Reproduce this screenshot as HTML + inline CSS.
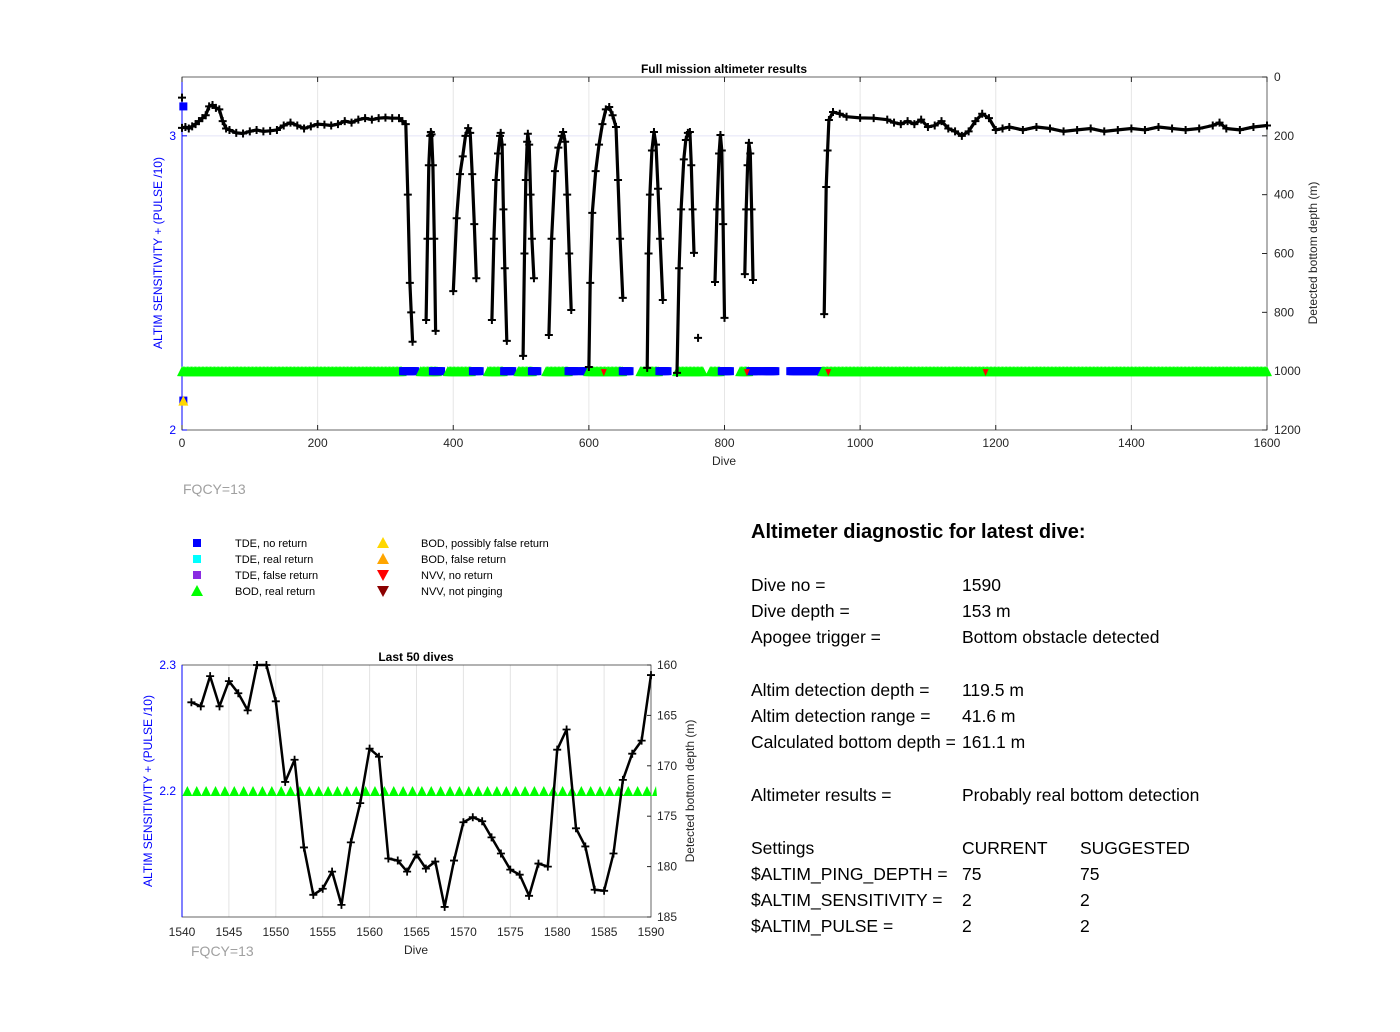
<!DOCTYPE html>
<html><head><meta charset="utf-8"><style>
body{margin:0;background:#fff;font-family:"Liberation Sans",Arial,sans-serif;}
#wrap{position:relative;width:1400px;height:1032px;overflow:hidden;}
svg{position:absolute;left:0;top:0;}
.diag{position:absolute;font-size:17.5px;color:#000;white-space:nowrap;}
</style></head><body>
<div id="wrap">
<svg id="svg" width="1400" height="1032" font-family="Liberation Sans, Arial, sans-serif"></svg>
<div class="diag" style="left:751px;top:521px;font-size:20px;font-weight:bold;">Altimeter diagnostic for latest dive:</div>
<div class="diag" style="left:751px;top:575px;">Dive no =</div><div class="diag" style="left:962px;top:575px;">1590</div>
<div class="diag" style="left:751px;top:601px;">Dive depth =</div><div class="diag" style="left:962px;top:601px;">153 m</div>
<div class="diag" style="left:751px;top:627px;">Apogee trigger =</div><div class="diag" style="left:962px;top:627px;">Bottom obstacle detected</div>
<div class="diag" style="left:751px;top:680px;">Altim detection depth =</div><div class="diag" style="left:962px;top:680px;">119.5 m</div>
<div class="diag" style="left:751px;top:706px;">Altim detection range =</div><div class="diag" style="left:962px;top:706px;">41.6 m</div>
<div class="diag" style="left:751px;top:732px;">Calculated bottom depth =</div><div class="diag" style="left:962px;top:732px;">161.1 m</div>
<div class="diag" style="left:751px;top:785px;">Altimeter results =</div><div class="diag" style="left:962px;top:785px;">Probably real bottom detection</div>
<div class="diag" style="left:751px;top:838px;">Settings</div><div class="diag" style="left:962px;top:838px;">CURRENT</div><div class="diag" style="left:1080px;top:838px;">SUGGESTED</div>
<div class="diag" style="left:751px;top:864px;">$ALTIM_PING_DEPTH =</div><div class="diag" style="left:962px;top:864px;">75</div><div class="diag" style="left:1080px;top:864px;">75</div>
<div class="diag" style="left:751px;top:890px;">$ALTIM_SENSITIVITY =</div><div class="diag" style="left:962px;top:890px;">2</div><div class="diag" style="left:1080px;top:890px;">2</div>
<div class="diag" style="left:751px;top:916px;">$ALTIM_PULSE =</div><div class="diag" style="left:962px;top:916px;">2</div><div class="diag" style="left:1080px;top:916px;">2</div>
</div>
<script>
// ---- top chart data (null = gap) ----
const topDives = [0,5,10,15,20,25,30,35,40,45,50,55,60,65,70,80,90,100,110,120,130,140,150,160,170,180,190,200,210,220,230,240,250,260,270,280,290,300,310,320,325,330,333,336,338,340,null,
360,362,364,366,367,368,370,372,374,null,
400,405,410,414,418,422,425,428,431,434,null,
457,460,463,466,469,470,472,474,476,479,null,
503,505,507,509,510,512,514,516,519,null,
541,545,550,555,560,562,565,568,571,574,null,
600,602,605,610,615,620,625,630,635,640,643,646,650,null,
686,688,690,693,696,699,702,705,709,null,
730,733,736,740,743,746,749,751,753,755,null,
761,null,
786,789,792,794,796,798,800,null,
830,832,834,836,838,840,842,null,
947,950,952,954,960,970,980,1000,1020,1040,1050,1060,1070,1080,1090,1100,1110,1120,1130,1140,1150,1160,1170,1180,1190,1200,1210,1220,1240,1260,1280,1300,1320,1340,1360,1380,1400,1420,1440,1460,1480,1500,1520,1530,1540,1560,1580,1600];
const topDepths = [173,170,175,168,160,150,140,130,100,95,105,110,150,175,180,190,192,185,180,185,183,180,165,155,165,175,168,160,162,165,160,150,155,145,140,145,140,138,140,140,150,160,400,700,800,900,null,
826,550,300,200,187,195,300,550,863,null,
728,480,330,270,200,174,190,330,500,684,null,
826,550,350,260,200,190,230,450,650,897,null,
948,600,350,220,193,230,400,550,684,null,
877,550,320,240,200,187,220,400,600,792,null,
986,700,462,320,230,160,110,102,130,170,350,550,751,null,
989,600,400,250,187,230,380,550,758,null,
1006,650,450,280,214,190,187,300,450,598,null,
887,null,
697,450,260,197,250,500,819,null,
670,450,300,224,260,450,690,null,
806,374,250,146,119,125,135,139,140,145,155,160,150,160,145,170,165,150,175,185,200,185,150,125,140,180,175,170,180,170,175,185,180,175,185,180,175,180,170,175,180,175,165,155,175,180,170,165];
// status marker ranges (dive from, dive to, type)
const statusFrom = [0,326,352,370,392,429,451,475,496,516,537,570,591,599,650,676,704,730,779,796,823,838,857,897,944];
const statusTo   = [325,344,376,383,427,440,474,487,516,525,570,583,599,650,660,702,717,768,794,808,835,850,876,944,1600];
const statusType = ["bod","tde","bod","tde","bod","tde","bod","tde","bod","tde","bod","tde","tde","bod","tde","bod","tde","bod","bod","tde","bod","tde","tde","tde","bod"];
const nvvDives = [622,833,953,1185];
const xTicks = [0,200,400,600,800,1000,1200,1400,1600];
const rTicks = [0,200,400,600,800,1000,1200];
// ---- bottom chart data ----
const lastDives = [1541,1542,1543,1544,1545,1546,1547,1548,1549,1550,1551,1552,1553,1554,1555,1556,1557,1558,1559,1560,1561,1562,1563,1564,1565,1566,1567,1568,1569,1570,1571,1572,1573,1574,1575,1576,1577,1578,1579,1580,1581,1582,1583,1584,1585,1586,1587,1588,1589,1590];
const lastDepths = [163.7,164.1,161.1,164.1,161.6,162.8,164.5,160,160,163.6,171.6,169.4,178.1,182.8,182.2,180.5,183.8,177.6,173.7,168.3,169.1,179.2,179.4,180.5,178.8,180.2,179.5,184.0,179.4,175.6,175.1,175.5,177.1,178.7,180.3,180.8,182.9,179.7,180.0,168.4,166.4,176.2,178.0,182.3,182.4,178.7,171.4,168.8,167.5,161.0];
const lastStatus = 2.2;
const bxTicks = [1540,1545,1550,1555,1560,1565,1570,1575,1580,1585,1590];
const brTicks = [160,165,170,175,180,185];

const svg = document.getElementById('svg');
const NS = 'http://www.w3.org/2000/svg';
function mk(tag, attrs, parent, name, inter) {
  const e = document.createElementNS(NS, tag);
  for (const k in attrs) e.setAttribute(k, attrs[k]);
  
  
  (parent || svg).appendChild(e);
  return e;
}
function txt(x, y, s, attrs, name) { const t = mk('text', Object.assign({x: x, y: y, 'font-size': 12}, attrs || {}), null, name); t.textContent = s; return t; }

// ===== top chart =====
const T = {l:182, r:1267, t:77, b:430};
const tx = d => T.l + (d / 1600) * (T.r - T.l);
const ty = m => T.t + (m / 1200) * (T.b - T.t);
const tyl = v => T.b - ((v - 2) / 1.2) * (T.b - T.t);
xTicks.forEach(d => { if (d > 0 && d < 1600) mk('line', {x1: tx(d), x2: tx(d), y1: T.t, y2: T.b, stroke: '#e6e6e6'}, null, 'top-gridline'); });
mk('line', {x1: T.l, x2: T.r, y1: tyl(3), y2: tyl(3), stroke: '#e4e4f8'}, null, 'top-gridline-3');
mk('rect', {x: T.l, y: T.t, width: T.r - T.l, height: T.b - T.t, fill: 'none', stroke: '#262626', 'stroke-width': 0.7}, null, 'top-plot-frame');
mk('line', {x1: T.l, x2: T.l, y1: T.t, y2: T.b, stroke: '#0000ff'}, null, 'top-left-axis');
xTicks.forEach(d => {
  mk('line', {x1: tx(d), x2: tx(d), y1: T.b, y2: T.b - 5, stroke: '#262626'}, null, 'top-x-tick');
  mk('line', {x1: tx(d), x2: tx(d), y1: T.t, y2: T.t + 5, stroke: '#262626'}, null, 'top-x-tick');
  txt(tx(d), 447, String(d), {'text-anchor': 'middle', fill: '#262626'}, 'top-x-tick-label');
});
rTicks.forEach(m => {
  mk('line', {x1: T.r - 5, x2: T.r, y1: ty(m), y2: ty(m), stroke: '#262626'}, null, 'top-right-tick');
  txt(T.r + 7, ty(m) + 4, String(m), {fill: '#262626'}, 'top-right-tick-label');
});
[2, 3].forEach(v => { txt(T.l - 6, tyl(v) + 4, String(v), {'text-anchor': 'end', fill: '#0000ff'}, 'top-left-tick-label'); mk('line', {x1: T.l, x2: T.l + 5, y1: tyl(v), y2: tyl(v), stroke: '#0000ff'}, null, 'top-left-tick'); });
txt(724, 73, 'Full mission altimeter results', {'text-anchor': 'middle', 'font-weight': 'bold'}, 'top-chart-title');
txt(724, 465, 'Dive', {'text-anchor': 'middle', fill: '#262626'}, 'top-x-axis-title');
txt(0, 0, 'ALTIM SENSITIVITY + (PULSE /10)', {'text-anchor': 'middle', fill: '#0000ff', transform: 'translate(162,253) rotate(-90)'}, 'top-left-axis-title');
txt(0, 0, 'Detected bottom depth (m)', {'text-anchor': 'middle', fill: '#262626', transform: 'translate(1317,253) rotate(-90)'}, 'top-right-axis-title');
txt(183, 494, 'FQCY=13', {'font-size': 14, fill: '#a0a0a0'}, 'top-fqcy-label');

// status markers
const gSt = mk('g', {}, null, 'top-status-markers');
const sy = tyl(2.2);
statusFrom.forEach((f, i) => {
  for (let d = f; d <= statusTo[i]; d += 2) {
    const x = tx(d);
    if (statusType[i] === 'bod') mk('polygon', {points: `${x-5},${sy+5} ${x},${sy-5} ${x+5},${sy+5}`, fill: '#00ff00'}, gSt, 'bod-real-marker');
    else mk('rect', {x: x - 4, y: sy - 4, width: 8, height: 8, fill: '#0000ff'}, gSt, 'tde-no-return-marker');
  }
});
nvvDives.forEach(d => { const x = tx(d); mk('polygon', {points: `${x-3},${sy-2} ${x+3},${sy-2} ${x},${sy+5}`, fill: '#ff0000'}, gSt, 'nvv-marker'); });
mk('rect', {x: tx(2) - 4, y: tyl(3.1) - 4, width: 8, height: 8, fill: '#0000ff'}, gSt, 'tde-marker-first');
mk('rect', {x: tx(2) - 4, y: tyl(2.1) - 4, width: 8, height: 8, fill: '#0000ff'}, gSt, 'tde-marker-first-low');
mk('polygon', {points: `${tx(2)-5},${tyl(2.1)+5} ${tx(2)},${tyl(2.1)-5} ${tx(2)+5},${tyl(2.1)+5}`, fill: '#ffd700'}, gSt, 'bod-possibly-false-marker');

// depth line
let dStr = '', pen = false;
topDives.forEach((d, i) => {
  if (d === null || topDepths[i] === null) { pen = false; return; }
  dStr += (pen ? 'L' : 'M') + tx(d).toFixed(1) + ' ' + ty(topDepths[i]).toFixed(1) + ' ';
  pen = true;
});
mk('path', {d: dStr, fill: 'none', stroke: '#000', 'stroke-width': 3.2, 'stroke-linejoin': 'round'}, null, 'top-depth-line');
const gM = mk('g', {stroke: '#000', 'stroke-width': 2}, null, 'top-depth-markers');
topDives.forEach((d, i) => {
  if (d === null) return;
  const x = tx(d), y = ty(topDepths[i]);
  mk('path', {d: `M${x-4} ${y}H${x+4}M${x} ${y-4}V${y+4}`}, gM, 'depth-point');
});
mk('path', {d: `M${tx(0)-4} ${ty(70)}H${tx(0)+4}M${tx(0)} ${ty(70)-4}V${ty(70)+4}`, stroke: '#000', 'stroke-width': 2}, gM, 'depth-point-first');

// legend
const legL = [['sq', '#0000ff', 'TDE, no return'], ['sq', '#00ffff', 'TDE, real return'], ['sq', '#8a2be2', 'TDE, false return'], ['up', '#00ff00', 'BOD, real return']];
const legR = [['up', '#ffd700', 'BOD, possibly false return'], ['up', '#ffa500', 'BOD, false return'], ['dn', '#ff0000', 'NVV, no return'], ['dn', '#8b0000', 'NVV, not pinging']];
function legItem(mx, tx2, y, it) {
  const [k, c, s] = it;
  if (k === 'sq') mk('rect', {x: mx - 4, y: y - 4, width: 8, height: 8, fill: c}, null, 'legend-marker');
  else if (k === 'up') mk('polygon', {points: `${mx-6},${y+5} ${mx},${y-6} ${mx+6},${y+5}`, fill: c}, null, 'legend-marker');
  else mk('polygon', {points: `${mx-6},${y-5} ${mx+6},${y-5} ${mx},${y+6}`, fill: c}, null, 'legend-marker');
  txt(tx2, y + 4, s, {'font-size': 11}, 'legend-entry');
}
legL.forEach((it, i) => legItem(197, 235, 543 + i * 16, it));
legR.forEach((it, i) => legItem(383, 421, 543 + i * 16, it));

// ===== bottom chart =====
const B = {l:182, r:651, t:665, b:917};
const bx = d => B.l + ((d - 1540) / 50) * (B.r - B.l);
const by = m => B.t + ((m - 160) / 25) * (B.b - B.t);
const byl = v => B.b - ((v - 2.1) / 0.2) * (B.b - B.t) + 0;
bxTicks.forEach(d => { if (d > 1540 && d < 1590) mk('line', {x1: bx(d), x2: bx(d), y1: B.t, y2: B.b, stroke: '#e3e3e3'}, null, 'bottom-gridline'); });
mk('rect', {x: B.l, y: B.t, width: B.r - B.l, height: B.b - B.t, fill: 'none', stroke: '#262626', 'stroke-width': 0.7}, null, 'bottom-plot-frame');
mk('line', {x1: B.l, x2: B.l, y1: B.t, y2: B.b, stroke: '#0000ff'}, null, 'bottom-left-axis');
bxTicks.forEach(d => txt(bx(d), 936, String(d), {'text-anchor': 'middle', fill: '#262626'}, 'bottom-x-tick-label'));
brTicks.forEach(m => { mk('line', {x1: B.r - 4, x2: B.r, y1: by(m), y2: by(m), stroke: '#262626'}, null, 'bottom-right-tick'); txt(B.r + 6, by(m) + 4, String(m), {fill: '#262626'}, 'bottom-right-tick-label'); });
[[2.3, '2.3'], [2.2, '2.2']].forEach(([v, s]) => txt(B.l - 6, byl(v) + 4, s, {'text-anchor': 'end', fill: '#0000ff'}, 'bottom-left-tick-label'));
txt(416, 661, 'Last 50 dives', {'text-anchor': 'middle', 'font-weight': 'bold'}, 'bottom-chart-title');
txt(416, 954, 'Dive', {'text-anchor': 'middle', fill: '#262626'}, 'bottom-x-axis-title');
txt(0, 0, 'ALTIM SENSITIVITY + (PULSE /10)', {'text-anchor': 'middle', fill: '#0000ff', transform: 'translate(152,791) rotate(-90)'}, 'bottom-left-axis-title');
txt(0, 0, 'Detected bottom depth (m)', {'text-anchor': 'middle', fill: '#262626', transform: 'translate(694,791) rotate(-90)'}, 'bottom-right-axis-title');
txt(191, 956, 'FQCY=13', {'font-size': 14, fill: '#a0a0a0'}, 'bottom-fqcy-label');
const gB = mk('g', {}, null, 'bottom-status-markers');
lastDives.forEach(d => { const x = bx(d) - 4, y = byl(lastStatus); mk('polygon', {points: `${x-5},${y+5} ${x},${y-5} ${x+5},${y+5}`, fill: '#00ff00'}, gB, 'bod-real-marker'); });
mk('polygon', {points: `${bx(1590)+1},${byl(lastStatus)+5} ${bx(1590)+5},${byl(lastStatus)-5} ${bx(1590)+6},${byl(lastStatus)+5}`, fill: '#00ff00'}, gB, 'bod-real-marker');
mk('path', {d: lastDives.map((d, i) => (i ? 'L' : 'M') + bx(d).toFixed(1) + ' ' + by(lastDepths[i]).toFixed(1)).join(' '), fill: 'none', stroke: '#000', 'stroke-width': 2.5, 'stroke-linejoin': 'round'}, null, 'bottom-depth-line');
const gBM = mk('g', {stroke: '#000', 'stroke-width': 1.8}, null, 'bottom-depth-markers');
lastDives.forEach((d, i) => { const x = bx(d), y = by(lastDepths[i]); mk('path', {d: `M${x-4} ${y}H${x+4}M${x} ${y-4}V${y+4}`}, gBM, 'depth-point'); });
</script>
</body></html>
